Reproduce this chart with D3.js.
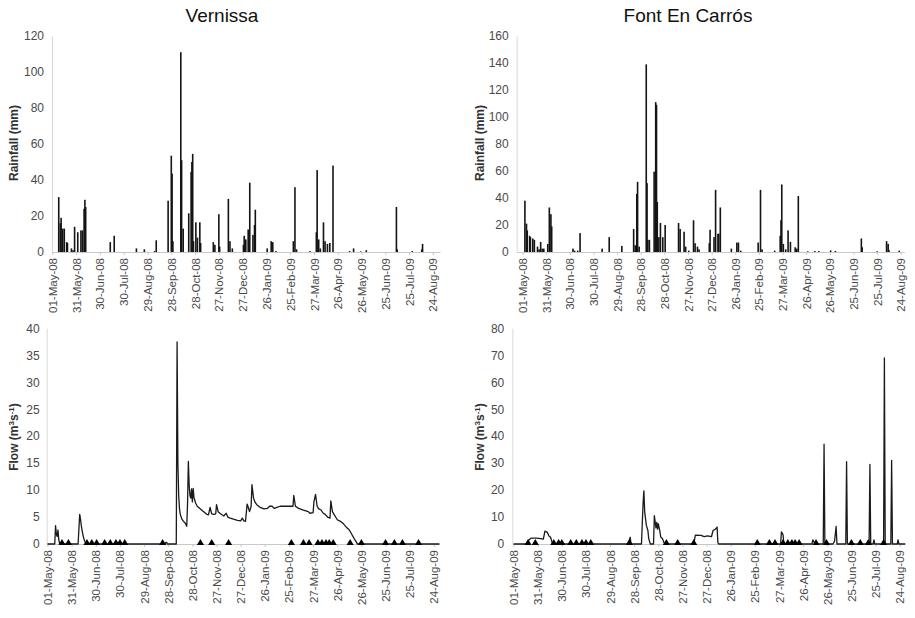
<!DOCTYPE html>
<html><head><meta charset="utf-8">
<script src="https://cdn.jsdelivr.net/npm/d3@7"></script>
<style>body{margin:0;background:#fff}svg{display:block}</style>
</head><body>
<svg id="c" width="915" height="618"></svg>
<script>
// ---------- DATA ----------
const tickDates = ["2008-05-01","2008-05-31","2008-06-30","2008-07-30","2008-08-29","2008-09-28","2008-10-28","2008-11-27","2008-12-27","2009-01-26","2009-02-25","2009-03-27","2009-04-26","2009-05-26","2009-06-25","2009-07-25","2009-08-24"];
const vernissaRainTicks = [0,20,40,60,80,100,120];
const fontRainTicks = [0,20,40,60,80,100,120,140,160];
const vernissaFlowTicks = [0,5,10,15,20,25,30,35,40];
const fontFlowTicks = [0,10,20,30,40,50,60,70,80];

const vernissaRain = [
["2008-05-09",30.5],["2008-05-11",16],["2008-05-12",19],["2008-05-14",13],["2008-05-16",13],["2008-05-19",5.5],["2008-05-20",5],
["2008-05-25",2],["2008-05-27",1],["2008-05-29",14],["2008-06-02",11],["2008-06-06",12],["2008-06-08",12],["2008-06-10",24],
["2008-06-11",29],["2008-06-12",25],["2008-07-13",5.5],["2008-07-18",9],["2008-08-15",2],["2008-08-25",1.5],["2008-09-07",0.5],
["2008-09-09",6.5],["2008-09-24",28.5],["2008-09-28",53.5],["2008-09-29",43.5],["2008-09-30",6],["2008-10-10",111],["2008-10-11",51],
["2008-10-13",13],["2008-10-20",21.5],["2008-10-23",44.5],["2008-10-24",50],["2008-10-25",54.5],["2008-10-26",6],["2008-10-29",16.5],
["2008-10-31",8],["2008-11-03",16.5],["2008-11-04",5],["2008-11-20",5.5],["2008-11-22",4],["2008-11-27",21],["2008-11-28",3],
["2008-12-09",29.5],["2008-12-11",6],["2008-12-14",2],["2008-12-28",4],["2008-12-29",9],["2008-12-31",7],["2009-01-03",12.5],
["2009-01-05",38.5],["2009-01-09",9.5],["2009-01-11",15],["2009-01-12",23.5],["2009-01-27",2],["2009-02-01",6],["2009-02-03",5.5],
["2009-02-07",0.5],["2009-03-01",6],["2009-03-03",36],["2009-03-05",1.5],["2009-03-22",0.5],["2009-03-30",11],["2009-03-31",45.5],
["2009-04-02",7],["2009-04-04",2],["2009-04-08",16.5],["2009-04-10",6],["2009-04-13",4.5],["2009-04-16",5],["2009-04-20",48],
["2009-05-11",0.5],["2009-05-16",2],["2009-05-25",0.3],["2009-06-01",1],["2009-07-09",25],["2009-07-10",1.5],["2009-07-29",0.5],
["2009-08-10",1.5],["2009-08-11",4.5]
];

const fontRain = [
["2008-05-04",38],["2008-05-06",21],["2008-05-07",16],["2008-05-10",12],["2008-05-11",11],["2008-05-14",10],["2008-05-16",9],
["2008-05-20",4],["2008-05-22",2],["2008-05-24",7.5],["2008-05-26",2.5],["2008-05-28",2.5],["2008-06-02",6],["2008-06-04",33],
["2008-06-06",28],["2008-06-07",19],["2008-07-04",2.5],["2008-07-06",1],["2008-07-10",1],["2008-07-13",14],["2008-08-10",2.5],
["2008-08-19",11],["2008-09-04",4.5],["2008-09-19",17],["2008-09-21",5],["2008-09-23",43],["2008-09-24",52],["2008-09-26",4],
["2008-10-05",139],["2008-10-06",51],["2008-10-07",9],["2008-10-09",9],["2008-10-15",59.5],["2008-10-17",111],["2008-10-18",109],
["2008-10-19",37],["2008-10-21",11],["2008-10-23",21.5],["2008-10-26",11],["2008-10-29",20],["2008-11-15",21.5],["2008-11-17",17],
["2008-11-22",15],["2008-11-24",4],["2008-11-28",1],["2008-12-04",23.5],["2008-12-06",6.5],["2008-12-09",4],["2008-12-11",2],
["2008-12-24",6.5],["2008-12-25",16.5],["2008-12-30",11],["2009-01-01",46],["2009-01-04",13.5],["2009-01-05",13.5],["2009-01-07",33],
["2009-01-21",2.5],["2009-01-28",7],["2009-01-30",7],["2009-02-02",1],["2009-02-24",7],["2009-02-27",46],["2009-03-01",2],
["2009-03-17",1],["2009-03-24",12],["2009-03-25",23.5],["2009-03-26",50],["2009-03-28",6],["2009-03-31",2],["2009-04-03",16],
["2009-04-06",7.5],["2009-04-12",3.5],["2009-04-14",2.5],["2009-04-16",41.5],["2009-04-28",0.5],["2009-05-07",0.7],["2009-05-12",0.7],
["2009-05-27",1.2],["2009-06-02",0.8],["2009-07-05",10],["2009-07-06",3.5],["2009-07-25",0.5],["2009-08-06",8],["2009-08-08",6],
["2009-08-09",1.5],["2009-08-22",1]
];

const vernissaFlow = [
["2008-05-01",0],["2008-05-10",0],["2008-05-11",3.4],["2008-05-12",1.8],["2008-05-13",1.4],["2008-05-14",2.6],["2008-05-15",0.8],
["2008-05-16",0.1],["2008-05-17",0],["2008-06-08",0],["2008-06-10",5.5],["2008-06-11",4.6],["2008-06-12",3.4],["2008-06-13",2.5],
["2008-06-14",1.7],["2008-06-15",1.1],["2008-06-16",0.6],["2008-06-17",0.3],["2008-06-18",0.1],["2008-06-19",0],["2008-09-24",0],
["2008-09-25",0.3],["2008-09-26",0.3],["2008-09-27",0],["2008-10-08",0],["2008-10-09",37.5],["2008-10-10",15],["2008-10-11",9],
["2008-10-12",6.5],["2008-10-13",5.5],["2008-10-15",4.6],["2008-10-17",4.2],["2008-10-19",3.9],["2008-10-21",3.3],["2008-10-22",7.5],
["2008-10-23",15.3],["2008-10-24",11],["2008-10-25",9],["2008-10-26",8.5],["2008-10-27",10.2],["2008-10-28",7.8],["2008-10-29",10.3],
["2008-10-30",8.6],["2008-11-01",7.6],["2008-11-03",7.0],["2008-11-07",6.5],["2008-11-11",6.0],["2008-11-15",5.5],["2008-11-17",5.4],
["2008-11-19",6.8],["2008-11-21",5.6],["2008-11-24",5.5],["2008-11-26",5.6],["2008-11-27",7.3],["2008-11-29",6.0],["2008-12-02",5.6],
["2008-12-06",5.2],["2008-12-09",5.7],["2008-12-11",5.0],["2008-12-14",4.8],["2008-12-18",4.6],["2008-12-23",4.4],["2008-12-27",4.3],
["2008-12-29",4.8],["2008-12-31",4.3],["2009-01-02",4.2],["2009-01-04",7.4],["2009-01-05",7.0],["2009-01-07",6.0],["2009-01-09",7.0],
["2009-01-10",11.0],["2009-01-12",8.5],["2009-01-14",7.7],["2009-01-16",7.3],["2009-01-20",6.8],["2009-01-25",6.5],["2009-01-29",6.6],
["2009-02-01",7.0],["2009-02-04",7.0],["2009-02-07",6.6],["2009-02-10",6.8],["2009-02-14",7.0],["2009-02-22",7.0],["2009-03-02",7.0],
["2009-03-03",9.0],["2009-03-05",7.0],["2009-03-09",6.6],["2009-03-15",6.3],["2009-03-21",6.0],["2009-03-23",5.7],["2009-03-27",5.8],
["2009-03-28",7.8],["2009-03-30",9.2],["2009-04-01",7.0],["2009-04-03",6.5],["2009-04-06",6.3],["2009-04-08",5.8],["2009-04-11",5.5],
["2009-04-14",5.0],["2009-04-17",4.8],["2009-04-18",8.0],["2009-04-20",6.0],["2009-04-22",5.5],["2009-04-24",5.0],["2009-04-26",4.5],
["2009-04-30",4.2],["2009-05-04",3.7],["2009-05-08",3.0],["2009-05-11",2.6],["2009-05-14",1.8],["2009-05-17",1.0],["2009-05-20",0.3],
["2009-05-21",0],["2009-08-31",0]
];

const fontFlow = [
["2008-05-01",0],["2008-05-17",0],["2008-05-20",1.5],["2008-05-23",2.2],["2008-05-29",2.2],["2008-06-04",2.0],["2008-06-07",1.8],
["2008-06-09",4.8],["2008-06-12",4.3],["2008-06-14",3.0],["2008-06-16",2.5],["2008-06-18",0.5],["2008-06-20",0],["2008-09-20",0],
["2008-09-22",1.5],["2008-09-23",2.5],["2008-09-24",0],["2008-10-07",0],["2008-10-09",15],["2008-10-10",19.7],["2008-10-11",12],
["2008-10-13",7],["2008-10-15",5],["2008-10-16",2],["2008-10-18",0],["2008-10-22",0],["2008-10-23",10.5],["2008-10-25",6],
["2008-10-26",8],["2008-10-27",5.5],["2008-10-28",7.5],["2008-10-30",4.5],["2008-10-31",2.5],["2008-11-02",2],["2008-11-04",0.5],
["2008-11-05",0],["2008-12-11",0],["2008-12-13",3.3],["2008-12-20",3.2],["2008-12-24",2.7],["2008-12-28",3.0],["2009-01-02",2.7],
["2009-01-04",5.0],["2009-01-07",5.5],["2009-01-09",6.3],["2009-01-10",0.5],["2009-01-11",0],["2009-03-29",0],["2009-03-30",4.5],
["2009-04-01",3.5],["2009-04-02",0],["2009-05-07",0],["2009-05-08",1.5],["2009-05-10",0.5],["2009-05-11",0],["2009-05-21",0],
["2009-05-22",37],["2009-05-23",0],["2009-06-02",0],["2009-06-04",1],["2009-06-06",6.5],["2009-06-07",0],["2009-06-18",0],
["2009-06-19",30.5],["2009-06-20",0],["2009-07-17",0],["2009-07-18",29.5],["2009-07-19",0],["2009-07-22",0],["2009-07-23",1.5],
["2009-07-24",0],["2009-08-04",0],["2009-08-05",69],["2009-08-06",0],["2009-08-13",0],["2009-08-14",31],["2009-08-15",0],
["2009-08-21",0],["2009-08-22",1.5],["2009-08-23",0],["2009-08-31",0]
];

const vernissaSamples = ["2008-05-19","2008-05-27","2008-06-19","2008-06-25","2008-07-01","2008-07-11","2008-07-18","2008-07-25","2008-07-30","2008-08-05","2008-09-21","2008-11-07","2008-11-21","2008-12-12","2009-02-28","2009-03-15","2009-03-22","2009-04-02","2009-04-07","2009-04-12","2009-04-16","2009-04-21","2009-05-12","2009-05-26","2009-06-25","2009-07-06","2009-07-16","2009-08-05"];
const fontSamples = ["2008-05-19","2008-05-28","2008-06-20","2008-06-26","2008-06-30","2008-07-11","2008-07-18","2008-07-25","2008-07-30","2008-08-05","2008-09-22","2008-11-07","2008-11-21","2008-12-11","2009-02-28","2009-03-15","2009-03-22","2009-04-01","2009-04-07","2009-04-12","2009-04-16","2009-04-21","2009-05-12","2009-05-25","2009-06-25","2009-07-06","2009-07-16","2009-08-04"];

// ---------- DRAWING ----------
const parse = d3.timeParse("%Y-%m-%d");
const fmt = d3.timeFormat("%d-%b-%y");
const FONT = "'Liberation Sans', Arial, Helvetica, sans-serif";
const svg = d3.select("#c");

function panel(o) {
  const x = d3.scaleTime().domain(o.xDomain).range([o.left, o.right]);
  const y = d3.scaleLinear().domain([0, o.yMax]).range([o.bottom, o.top]);
  const g = svg.append("g");

  // y axis
  g.append("g").attr("transform", `translate(${o.left},0)`)
    .call(d3.axisLeft(y).tickValues(o.yTicks).tickSize(0).tickSizeOuter(0).tickPadding(o.yPad))
    .call(s => {
      s.select(".domain").attr("stroke", "#d9d9d9").attr("stroke-width", 1);
      s.selectAll("text").attr("font-family", FONT).attr("font-size", 12).attr("fill", "#4a4a4a");
    });

  // x axis
  g.append("g").attr("transform", `translate(0,${o.bottom})`)
    .call(d3.axisBottom(x).tickValues(tickDates.map(parse)).tickFormat(fmt).tickSize(3).tickSizeOuter(0))
    .call(s => {
      s.select(".domain").attr("stroke", "#c8c8c8").attr("stroke-width", 1);
      s.selectAll(".tick line").attr("stroke", "#c8c8c8");
      s.selectAll("text").attr("font-family", FONT).attr("font-size", 11.5).attr("fill", "#4a4a4a")
        .attr("transform", "rotate(-90)").attr("text-anchor", "end")
        .attr("x", -6).attr("y", 0).attr("dy", "0.35em");
    });

  // axis title
  const t = g.append("text")
    .attr("transform", `translate(${o.titleX},${o.titleY}) rotate(-90)`)
    .attr("text-anchor", "middle").attr("dy", "0.35em")
    .attr("font-family", FONT).attr("font-size", 12).attr("font-weight", "bold").attr("fill", "#333");
  o.yTitle(t);

  if (o.bars) {
    g.append("g").selectAll("rect").data(o.bars).join("rect")
      .attr("x", d => x(parse(d[0])) - 0.8)
      .attr("width", 1.6)
      .attr("y", d => y(d[1]))
      .attr("height", d => y(0) - y(d[1]))
      .attr("fill", "#141414");
  }
  if (o.line) {
    g.append("path").datum(o.line)
      .attr("d", d3.line().x(d => x(parse(d[0]))).y(d => y(d[1])))
      .attr("fill", "none").attr("stroke", "#1a1a1a").attr("stroke-width", 1.3)
      .attr("stroke-linejoin", "round");
  }
  if (o.samples) {
    g.append("g").selectAll("path").data(o.samples).join("path")
      .attr("transform", d => `translate(${x(parse(d))},${y(0) - 1})`)
      .attr("d", d3.symbol().type(d3.symbolTriangle).size(22))
      .attr("fill", "#000");
  }
}

function rainTitle(t) { t.text("Rainfall (mm)"); }
function flowTitle(t) {
  t.append("tspan").text("Flow (m");
  t.append("tspan").attr("baseline-shift", "super").attr("font-size", 8).text("3");
  t.append("tspan").text("s");
  t.append("tspan").attr("baseline-shift", "super").attr("font-size", 8).text("-1");
  t.append("tspan").text(")");
}

panel({ left: 52, right: 440, top: 36, bottom: 252, yMax: 120, yTicks: vernissaRainTicks, yPad: 8,
  xDomain: [new Date(2008,3,30,12), new Date(2009,8,2)], bars: vernissaRain,
  titleX: 14, titleY: 143, yTitle: rainTitle });

panel({ left: 516.7, right: 904.3, top: 36, bottom: 252, yMax: 160, yTicks: fontRainTicks, yPad: 8,
  xDomain: [new Date(2008,3,23,14), new Date(2009,7,28,12)], bars: fontRain,
  titleX: 480, titleY: 143, yTitle: rainTitle });

panel({ left: 46.7, right: 439.3, top: 328.3, bottom: 544, yMax: 40, yTicks: vernissaFlowTicks, yPad: 7,
  xDomain: [new Date(2008,3,30,0), new Date(2009,7,30,19)], line: vernissaFlow, samples: vernissaSamples,
  titleX: 14, titleY: 437, yTitle: flowTitle });

panel({ left: 512.3, right: 904.5, top: 328.3, bottom: 544, yMax: 80, yTicks: fontFlowTicks, yPad: 8,
  xDomain: [new Date(2008,3,29,10), new Date(2009,7,30,0)], line: fontFlow, samples: fontSamples,
  titleX: 480, titleY: 437, yTitle: flowTitle });

// chart titles
svg.append("text").attr("x", 222).attr("y", 21.7).attr("text-anchor", "middle")
  .attr("font-family", FONT).attr("font-size", 19).attr("fill", "#111").text("Vernissa");
svg.append("text").attr("x", 688).attr("y", 21.7).attr("text-anchor", "middle")
  .attr("font-family", FONT).attr("font-size", 19).attr("fill", "#111").text("Font En Carrós");
</script>
</body></html>
